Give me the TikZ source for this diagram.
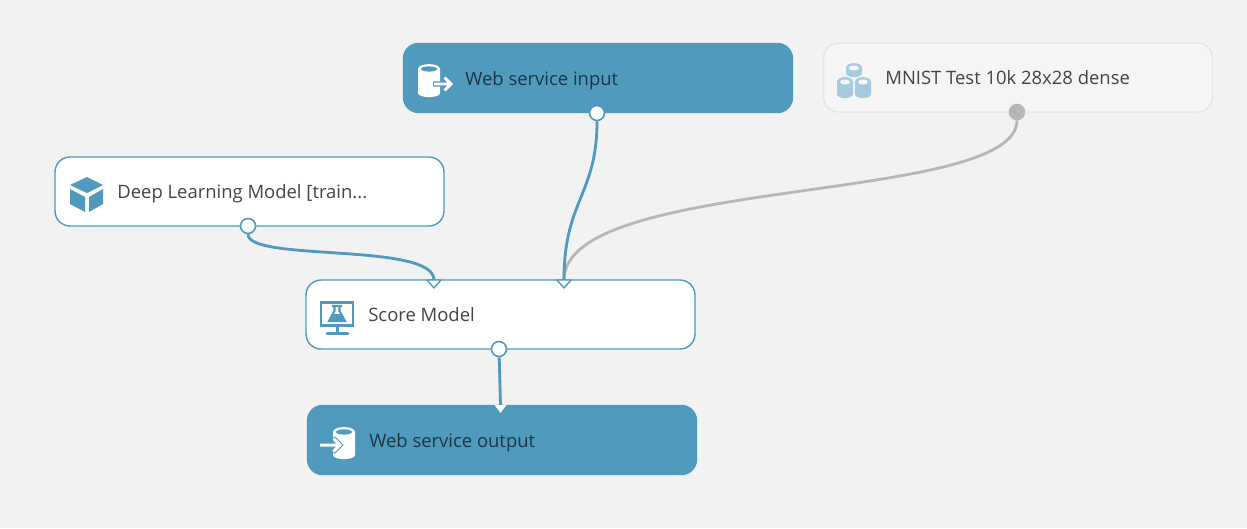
\documentclass[tikz,border=0pt]{standalone}
\usepackage{fontspec}
\setmainfont{Open Sans}
\definecolor{azblue}{HTML}{4F9ABD}
\definecolor{azpale}{HTML}{A5CBDF}
\definecolor{azback}{HTML}{F2F2F2}
\definecolor{azgrey}{HTML}{B7B7B7}
\definecolor{aztext}{HTML}{444444}
\tikzset{
	modbox/.style={draw=azblue,fill=white,line width=0.8pt,rounded corners=0.3cm,minimum width=7.78cm,minimum height=1.38cm,inner sep=0pt},
	webbox/.style={modbox,fill=azblue,draw=azblue},
	databox/.style={modbox,fill=black!4,draw=black!10},
	modtext/.style={anchor=base west,inner sep=0pt,text=aztext,font=\fontsize{10.5}{12}\selectfont},
	webtext/.style={modtext,text=black!65!azblue},
	outport/.style={circle,draw=azblue,fill=white,line width=0.9pt,minimum size=0.3cm,inner sep=0pt},
	dataport/.style={outport,draw=azgrey,fill=azgrey},
	wire/.style={azblue,line width=1.6pt},
	greywire/.style={wire,azgrey}
}
% #1 left, #2 top, #3 width, #4 height, #5 body, #6 top
\newcommand{\drawcyl}[6]{
	\fill[#5] (#1,#2+5) .. controls (#1,#2-1.5) and (#1+#3,#2-1.5) .. (#1+#3,#2+5) -- (#1+#3,#2+#4-4)
		.. controls (#1+#3,#2+#4+1.5) and (#1,#2+#4+1.5) .. (#1,#2+#4-4) -- cycle;
	\fill[#6] (#1+#3/2,#2+5) ellipse [x radius=#3/2-3,y radius=2.6];
}
% #1 tip of the port on the top edge of a module, #2 fill
\newcommand{\inport}[2]{
	\draw[azblue,fill=#2,line width=0.8pt,line join=round] (#1) +(-7,0) -- +(7,0) -- +(0,8) -- cycle;
}
\begin{document}
\begin{tikzpicture}[x=0.02cm,y=-0.02cm]
	\useasboundingbox[fill=azback] (0,0) rectangle (1247,528);
	% modules
	\node[webbox] (input) at (598,78) {};
	\node[databox] (mnist) at (1018,77.5) {};
	\node[modbox] (deep) at (249.5,191.5) {};
	\node[modbox] (score) at (500.5,314.5) {};
	\node[webbox] (output) at (502,440) {};
	\node[webtext] (inputtext) at (465,85) {Web service input};
	\node[modtext] (mnisttext) at (885,84) {MNIST Test 10k 28x28 dense};
	\node[modtext] (deeptext) at (117,198) {Deep Learning Model [train...};
	\node[modtext] (scoretext) at (368,321) {Score Model};
	\node[webtext] (outputtext) at (369,447) {Web service output};
	% ports
	\node[outport] (inputout) at (597,113) {};
	\node[dataport] (mnistout) at (1017,112) {};
	\node[outport] (deepout) at (248,226) {};
	\node[outport] (scoreout) at (499,349) {};
	\coordinate (scoreleft) at (434,280);
	\coordinate (scoreright) at (564,280);
	\coordinate (outputin) at (500.5,405);
	% connectors
	\draw[greywire] (mnistout) .. controls (1017,205) and (564,175) .. (scoreright);
	\draw[wire] (inputout) .. controls (597,195) and (564,200) .. (scoreright);
	\draw[wire] (deepout) .. controls (248,262) and (434,242) .. (scoreleft);
	\draw[wire] (scoreout) -- (outputin);
	\inport{scoreleft}{white}
	\inport{scoreright}{white}
	\fill[white] (outputin) +(-6,0) -- +(6,0) -- +(0,8) -- cycle;
	% input icon
	\drawcyl{418}{64}{22}{33}{white}{azblue}
	\draw[azblue,line width=3pt] (433,84) -- (447,84) (444,77) -- (451,84) -- (444,91);
	\draw[white,line width=1.7pt] (434,84) -- (450,84) (444.5,77.5) -- (451,84) -- (444.5,90.5);
	% output icon
	\drawcyl{333}{427}{22}{32}{white}{azblue}
	\draw[azblue,line width=3pt] (320,445) -- (338,445) (333,438) -- (340,445) -- (333,452);
	\draw[white,line width=1.7pt] (320,445) -- (339,445) (333.5,438.5) -- (340,445) -- (333.5,451.5);
	% mnist icon
	\drawcyl{846}{63}{16}{14}{azpale}{black!4}
	\drawcyl{837}{77}{16}{21}{azpale}{black!4}
	\drawcyl{855}{77}{16}{21}{azpale}{black!4}
	% deep icon
	\fill[azblue] (87,177) -- (103,185) -- (87,193) -- (70,185) -- cycle;
	\fill[azblue] (70,189) -- (85,197) -- (85,212) -- (70,204) -- cycle;
	\fill[azblue] (89,197) -- (103,189) -- (103,204) -- (89,212) -- cycle;
	% score icon
	\draw[azblue,line width=1.7pt] (321,302) rectangle (353,325);
	\fill[azblue] (336,325) rectangle (339,333);
	\draw[azblue,line width=1.6pt,line cap=round] (327,333.5) -- (348,333.5);
	\draw[azblue,line width=1.2pt] (332,306) -- (342,306) (334.5,306) -- (334.5,311) -- (329,321) -- (345,321) -- (339.5,311) -- (339.5,306);
	\fill[azblue] (332,314) -- (342,314) -- (345.5,321) -- (328.5,321) -- cycle;
\end{tikzpicture}
\end{document}
